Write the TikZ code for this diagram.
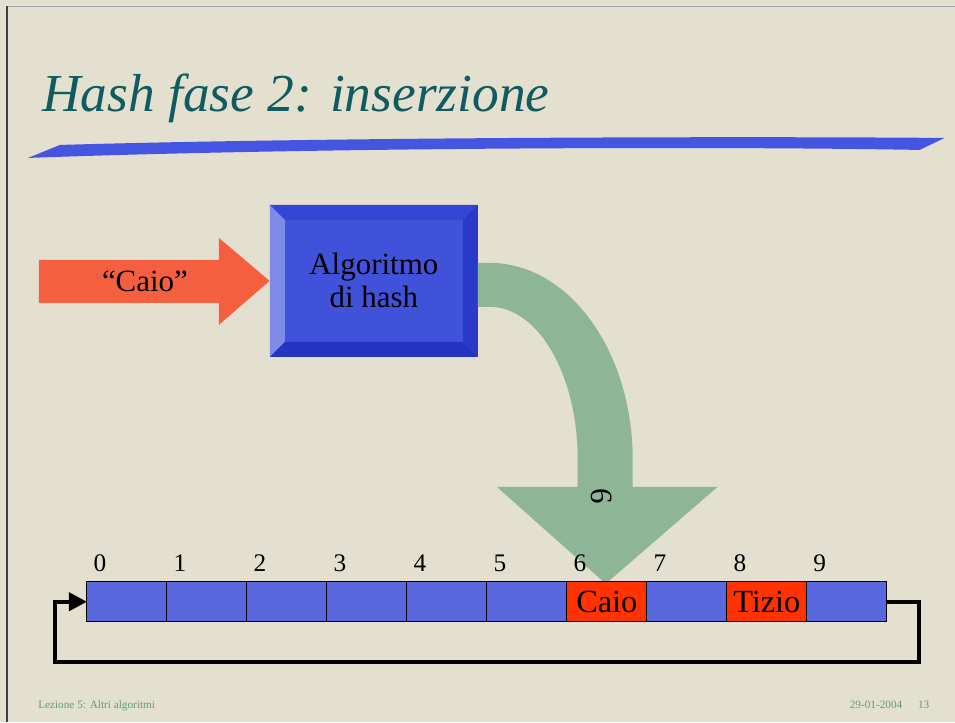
\documentclass[tikz,border=0pt]{standalone}
\usepackage{fontspec}
\setmainfont{Liberation Serif}
\usepackage{xcolor}
\usepackage{tikz}
\usetikzlibrary{positioning,arrows.meta}

\definecolor{slidebg}{HTML}{E3E0D0}
\definecolor{titleteal}{HTML}{0F5B60}
\definecolor{strokeblue}{HTML}{4555E2}
\definecolor{cellblue}{HTML}{5A68E0}
\definecolor{cellred}{HTML}{FF3300}
\definecolor{keyred}{HTML}{F4603F}
\definecolor{hashface}{HTML}{4152DA}
\definecolor{bevtop}{HTML}{3546D6}
\definecolor{bevbot}{HTML}{2434C0}
\definecolor{bevleft}{HTML}{7E8BE6}
\definecolor{bevright}{HTML}{2A3AC8}
\definecolor{hashgreen}{HTML}{8DB596}
\definecolor{footgreen}{HTML}{5C9C7C}

\begin{document}
\begin{tikzpicture}[
    x=0.025cm, y=-0.025cm,
    cell/.style={draw, line width=0.7pt, fill=cellblue, minimum width=2cm, minimum height=1cm, inner sep=0pt, outer sep=0pt},
    full/.style={cell, fill=cellred, font=\fontsize{23}{25}\selectfont},
    idx/.style={font=\fontsize{18}{20}\selectfont, anchor=base, inner sep=0pt},
    hashbox/.style={fill=hashface, minimum width=5.2cm, minimum height=3.8cm, inner sep=0pt, align=center,
        font=\fontsize{22}{23.5}\selectfont,
        path picture={
            \coordinate (nw) at (path picture bounding box.north west);
            \coordinate (ne) at (path picture bounding box.north east);
            \coordinate (sw) at (path picture bounding box.south west);
            \coordinate (se) at (path picture bounding box.south east);
            \fill[bevtop] (nw) -- (ne) -- ([shift={(-15,15)}]ne) -- ([shift={(15,15)}]nw) -- cycle;
            \fill[bevbot] (sw) -- (se) -- ([shift={(-15,-15)}]se) -- ([shift={(15,-15)}]sw) -- cycle;
            \fill[bevleft] (nw) -- (sw) -- ([shift={(15,-15)}]sw) -- ([shift={(15,15)}]nw) -- cycle;
            \fill[bevright] (ne) -- (se) -- ([shift={(-15,-15)}]se) -- ([shift={(-15,15)}]ne) -- cycle;
        }},
    wire/.style={line width=2.8pt, -{Triangle[length=0.45cm, width=0.45cm]}},
    foot/.style={font=\fontsize{8}{9}\selectfont, text=footgreen, inner sep=0pt},
]
    % slide
    \fill[slidebg] (0,0) rectangle (955,722);
    \draw[gray!70, line width=0.6pt] (7,6) -- (955,6);
    \draw[black!75, line width=1.6pt] (7,6) -- (7,722);

    % title
    \node[font=\fontsize{38}{40}\selectfont\itshape, text=titleteal, anchor=base west, inner sep=0pt] (title) at (42,112) {Hash fase 2: inserzione};
    \fill[strokeblue] (28,158) .. controls (300,148) and (700,146) .. (920,150) -- (945,138) .. controls (700,136) and (300,138) .. (60,145) -- cycle;

    % hash function
    \node[hashbox] (hash) at (374,281) {Algoritmo\\di hash};
    \fill[keyred] (39,260) -- (219,260) -- (219,238) -- (hash.west) -- (219,325) -- (219,303) -- (39,303) -- cycle;
    \node[font=\fontsize{22}{24}\selectfont, inner sep=0pt] (key) at (145,281) {“Caio”};

    % result arrow
    \fill[hashgreen] (478,263) -- (490,263) .. controls (569,263) and (633,351) .. (633,460) -- (633,487)
        -- (718,487) -- (606,584) -- (497,487) -- (578,487) -- (578,460)
        .. controls (578,376) and (539,307) .. (490,307) -- (478,307) -- cycle;
    \node[rotate=-90, font=\fontsize{22}{24}\selectfont, inner sep=0pt] (slot) at (602,496) {6};

    % table
    \node[cell] (c0) at (127,602) {};
    \foreach \i/\kind/\txt [remember=\i as \prev (initially 0)] in
        {1/cell/{},2/cell/{},3/cell/{},4/cell/{},5/cell/{},6/full/Caio,7/cell/{},8/full/Tizio,9/cell/{}}
        \node[\kind, right=0pt of c\prev] (c\i) {\txt};
    \foreach \i in {0,...,9}
        \node[idx] (n\i) at ([xshift=0.325cm, yshift=0.25cm]c\i.north west) {\i};

    % wrap around
    \coordinate (lr) at (919,662);
    \coordinate (ll) at (55,662);
    \draw[wire] (c9.east) -| (lr) -- (ll) |- (c0.west);

    % footer
    \node[foot, anchor=base west] (lesson) at (38,709) {Lezione 5: Altri algoritmi};
    \node[foot, anchor=base east] (date) at (903,709) {29-01-2004};
    \node[foot, anchor=base east] (page) at (930,709) {13};
\end{tikzpicture}
\end{document}
